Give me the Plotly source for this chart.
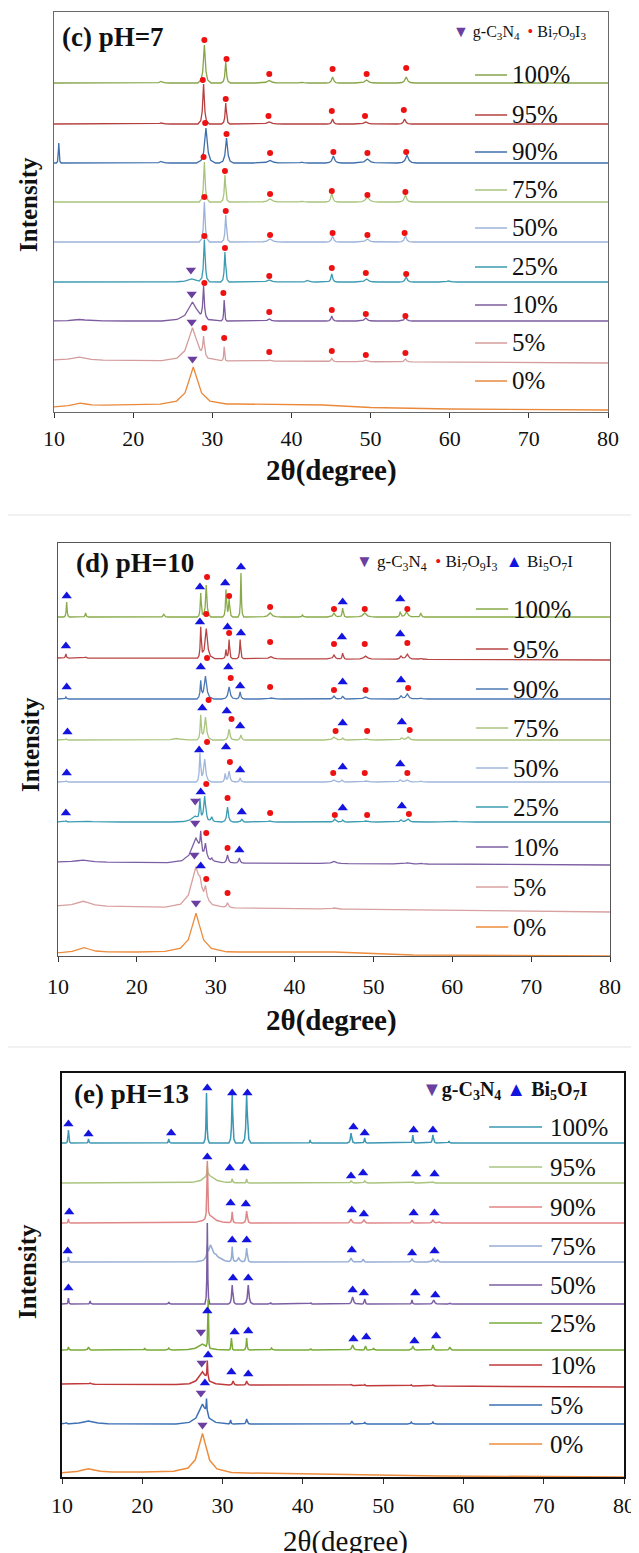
import numpy as np
import plotly.graph_objects as go

# page is shown inside the default 8px body margin, so the figure is drawn 8px smaller
PAGE_W, PAGE_H, BODY = 639, 1553, 8
W, H = PAGE_W - BODY, PAGE_H - BODY
SAMPLES = ["100%", "95%", "90%", "75%", "50%", "25%", "10%", "5%", "0%"]
X_TICKS = [10, 20, 30, 40, 50, 60, 70, 80]
FLAT = [(10, 0), (80, 0)]

# ---------------- panel (c) pH=7 : peaks (2theta, height, half-width) ----------------
C_OFFSETS = [329, 288, 249, 210, 170, 130, 91, 52, 0]
C_COLORS = ["#86a449", "#b5403f", "#3f6faa", "#a8c47c", "#9cb3d9", "#3b9bb0", "#7c5c9e", "#d49c9c", "#ea893b"]
C_P100 = [(23.5, 1.5, 0.2), (29.0, 38, 0.14), (31.7, 21, 0.1), (37.2, 2.5, 0.3), (41.3, 1, 0.15), (45.2, 6, 0.14), (49.5, 3, 0.25), (54.5, 6, 0.18)]
C_P95 = [(23.5, 1, 0.2), (28.9, 40, 0.12), (31.7, 21, 0.09), (37.2, 2, 0.3), (45.2, 5, 0.12), (49.4, 2, 0.25), (54.3, 5, 0.15)]
C_P90 = [(10.6, 20, 0.05), (23.5, 1.5, 0.2), (29.2, 35, 0.2), (31.8, 25, 0.15), (37.3, 2.5, 0.35), (41.3, 1, 0.15), (45.3, 7, 0.17), (49.6, 4, 0.3), (54.6, 8, 0.2)]
C_P75 = [(29.0, 40, 0.11), (31.6, 27, 0.09), (37.3, 3, 0.3), (41.3, 1, 0.15), (45.1, 9, 0.13), (49.6, 5, 0.25), (54.4, 7, 0.16)]
C_P50 = [(29.0, 40, 0.11), (31.7, 27, 0.09), (37.3, 3, 0.3), (45.2, 6, 0.14), (49.6, 3, 0.25), (54.4, 6, 0.16)]
C_P25 = [(27.4, 3, 0.6), (29.0, 42, 0.11), (31.6, 30, 0.09), (37.2, 2, 0.3), (42.0, 1.5, 0.2), (45.1, 8, 0.12), (49.5, 3, 0.25), (54.5, 5, 0.15), (59.8, 1, 0.2)]
C_P10 = [(13.2, 1.5, 1.0), (27.5, 19, 0.65), (28.9, 31, 0.1), (31.5, 21, 0.06), (37.2, 2, 0.2), (45.1, 5, 0.12), (49.4, 3, 0.2), (54.4, 4, 0.15)]
C_P5 = [(13.2, 3, 1.0), (27.5, 33, 0.65), (28.9, 18, 0.1), (31.5, 14, 0.06), (37.2, 1, 0.2), (45.1, 3, 0.12), (49.4, 1.5, 0.2), (54.4, 3, 0.15)]
C_P0 = [(13.3, 3, 1.0), (27.6, 37, 0.7)]
C_B5 = [(10, 0), (80, -3)]
C_B0 = [(10, 5), (20, 7.5), (26, 8), (33, 8), (44, 7), (50, 4.5), (60, 3), (80, 2)]
C_DOTS = [
    ("100%", 29.0, 43), ("100%", 31.8, 24), ("100%", 37.2, 9), ("100%", 45.2, 14), ("100%", 49.5, 9), ("100%", 54.5, 15),
    ("95%", 28.8, 44), ("95%", 31.7, 25), ("95%", 37.1, 8), ("95%", 45.1, 13), ("95%", 49.3, 8), ("95%", 54.2, 14),
    ("90%", 29.1, 40), ("90%", 31.8, 29), ("90%", 37.3, 10), ("90%", 45.3, 11), ("90%", 49.6, 10), ("90%", 54.5, 11),
    ("75%", 28.9, 45), ("75%", 31.6, 31), ("75%", 37.3, 8), ("75%", 45.1, 11), ("75%", 49.6, 7), ("75%", 54.4, 10),
    ("50%", 29.0, 45), ("50%", 31.7, 31), ("50%", 37.3, 7), ("50%", 45.2, 9), ("50%", 49.6, 7), ("50%", 54.3, 9),
    ("25%", 29.0, 46), ("25%", 31.6, 34), ("25%", 37.2, 6), ("25%", 45.1, 14), ("25%", 49.4, 9), ("25%", 54.5, 8),
    ("10%", 29.0, 38), ("10%", 31.4, 28), ("10%", 37.2, 9), ("10%", 45.1, 11), ("10%", 49.4, 7), ("10%", 54.4, 5),
    ("5%", 29.0, 32), ("5%", 31.5, 22), ("5%", 37.2, 8), ("5%", 45.1, 9), ("5%", 49.4, 5), ("5%", 54.4, 7),
]
C_UP = []
C_DOWN = [("25%", 27.3, 12), ("10%", 27.4, 27), ("5%", 27.4, 38), ("0%", 27.5, 53)]
C_LEG_Y = [337, 297, 260, 222, 184, 145, 107, 69, 31]

# ---------------- panel (d) pH=10 ----------------
D_OFFSETS = [339, 298, 257, 216, 174, 134, 94, 50, 0]
D_COLORS = ["#88aa48", "#b84444", "#4a78b5", "#aac47f", "#a0b6dc", "#3c9cb2", "#7b5ea3", "#d8a0a0", "#ec8c3c"]
D_P100 = [(11.1, 15, 0.06), (13.5, 4, 0.07), (23.4, 3, 0.08), (28.1, 24, 0.07), (28.8, 32, 0.1), (31.3, 27, 0.07), (31.7, 18, 0.08), (33.2, 44, 0.06), (36.9, 4, 0.25), (41.0, 2, 0.08), (45.0, 4, 0.15), (46.1, 9, 0.08), (48.9, 4, 0.25), (53.4, 5, 0.08), (54.2, 5, 0.2), (56.0, 4, 0.08)]
D_P95 = [(11.0, 4, 0.07), (13.5, 1, 0.1), (28.1, 30, 0.07), (28.8, 30, 0.18), (31.3, 9, 0.07), (31.7, 19, 0.07), (33.1, 19, 0.07), (37.0, 2, 0.25), (45.0, 4, 0.15), (46.1, 6, 0.08), (49.0, 3, 0.25), (53.5, 3, 0.15), (54.3, 5, 0.2), (56.0, 1, 0.15)]
D_P90 = [(11.0, 2, 0.07), (28.1, 17, 0.08), (28.7, 23, 0.18), (31.7, 12, 0.15), (33.1, 7, 0.1), (37.0, 1, 0.25), (45.0, 3, 0.15), (46.1, 3, 0.1), (49.0, 2, 0.25), (53.5, 3, 0.15), (54.3, 5, 0.2), (56.0, 1, 0.15)]
D_P75 = [(11.0, 1, 0.07), (25.0, 1.5, 0.5), (28.1, 24, 0.08), (28.7, 23, 0.15), (31.7, 11, 0.12), (33.2, 5, 0.1), (45.0, 3, 0.2), (46.1, 2, 0.1), (49.0, 1, 0.25), (53.6, 2, 0.15), (54.4, 3, 0.2)]
D_P50 = [(11.0, 1, 0.07), (28.0, 28, 0.08), (28.6, 23, 0.15), (31.2, 8, 0.08), (31.7, 11, 0.12), (33.1, 4, 0.1), (45.0, 2, 0.2), (46.0, 2, 0.1), (49.0, 1, 0.25), (53.4, 2, 0.15), (54.3, 2, 0.2), (56.0, 1, 0.15)]
D_P25 = [(11.0, 1, 0.07), (13.2, 1, 0.8), (27.4, 6, 0.5), (28.0, 20, 0.08), (28.6, 25, 0.14), (29.5, 5, 0.12), (31.5, 15, 0.12), (33.3, 3, 0.1), (36.8, 1, 0.2), (45.1, 3, 0.15), (46.1, 2, 0.1), (49.0, 1, 0.25), (53.5, 2, 0.15), (54.4, 3, 0.2), (60.0, 1, 0.5)]
D_P10 = [(13.2, 2, 1.0), (27.5, 25, 0.6), (28.1, 18, 0.08), (28.7, 14, 0.14), (29.5, 3, 0.12), (31.5, 8, 0.12), (33.0, 5, 0.1), (45.0, 2, 0.3), (54.3, 1, 0.3), (56.0, 1, 0.15)]
D_P5 = [(13.2, 5, 1.0), (27.5, 41, 0.65), (28.0, 5, 0.08), (28.7, 12, 0.15), (31.5, 5, 0.15), (45.0, 1, 0.3)]
D_P0 = [(13.3, 5, 1.0), (27.5, 38, 0.65)]
D_B95 = [(10, 0), (80, -2)]
D_B10 = [(10, 0), (80, -3)]
D_B5 = [(10, 0), (80, -6)]
D_B0 = [(10, 3), (20, 4), (26, 5), (33, 4), (45, 4), (55, 1), (80, 0)]
D_DOTS = [
    ("100%", 28.9, 40), ("100%", 31.7, 21), ("100%", 36.9, 10), ("100%", 45.0, 8), ("100%", 48.9, 8), ("100%", 54.3, 8),
    ("95%", 28.8, 44), ("95%", 31.7, 25), ("95%", 36.9, 16), ("95%", 45.0, 14), ("95%", 48.9, 14), ("95%", 54.3, 15),
    ("90%", 28.9, 41), ("90%", 31.9, 21), ("90%", 36.9, 12), ("90%", 45.0, 9), ("90%", 49.0, 9), ("90%", 54.4, 11),
    ("75%", 29.1, 40), ("75%", 32.0, 21), ("75%", 45.2, 9), ("75%", 49.2, 9), ("75%", 54.6, 10),
    ("50%", 28.9, 40), ("50%", 31.8, 20), ("50%", 44.9, 9), ("50%", 48.9, 9), ("50%", 54.3, 9),
    ("25%", 28.8, 38), ("25%", 31.5, 24), ("25%", 36.9, 9), ("25%", 45.1, 7), ("25%", 49.2, 7), ("25%", 54.5, 8),
    ("10%", 28.8, 29), ("10%", 31.5, 14),
    ("5%", 28.8, 27), ("5%", 31.5, 13),
]
D_UP = [
    ("100%", 11.1, 21), ("100%", 28.0, 30), ("100%", 31.2, 34), ("100%", 33.2, 50), ("100%", 46.1, 15), ("100%", 53.4, 18),
    ("95%", 11.0, 12), ("95%", 28.0, 36), ("95%", 31.5, 31), ("95%", 33.2, 25), ("95%", 46.0, 21), ("95%", 53.4, 24),
    ("90%", 11.1, 12), ("90%", 28.1, 32), ("90%", 31.6, 32), ("90%", 33.1, 13), ("90%", 46.1, 17), ("90%", 53.5, 19),
    ("75%", 11.2, 8), ("75%", 28.3, 32), ("75%", 31.4, 29), ("75%", 33.1, 14), ("75%", 46.1, 17), ("75%", 53.6, 18),
    ("50%", 11.1, 9), ("50%", 27.9, 32), ("50%", 31.3, 35), ("50%", 33.1, 12), ("50%", 46.1, 15), ("50%", 53.4, 18),
    ("25%", 11.0, 9), ("25%", 28.1, 30), ("25%", 33.3, 10), ("25%", 46.1, 14), ("25%", 53.6, 16),
    ("10%", 33.0, 12),
    ("5%", 28.1, 40),
]
D_DOWN = [("25%", 27.4, 21), ("10%", 27.4, 39), ("5%", 27.3, 51), ("0%", 27.5, 53)]
D_LEG_Y = [347, 307, 267, 228, 188, 149, 109, 69, 29]

# ---------------- panel (e) pH=13 ----------------
E_OFFSETS = [334, 294, 254, 215, 173, 127, 93, 53, 0]
E_COLORS = ["#3b97b2", "#a9c47f", "#e08585", "#94acd4", "#7b5ea3", "#7aab3a", "#c0393b", "#3d70b5", "#ec8c3c"]
E_P100 = [(10.8, 13, 0.05), (13.3, 4, 0.05), (23.3, 4, 0.06), (28.0, 50, 0.06), (31.2, 48, 0.07), (33.0, 48, 0.09), (40.9, 3, 0.04), (46.0, 10, 0.08), (47.7, 5, 0.06), (53.7, 8, 0.06), (56.2, 8, 0.08), (58.2, 2, 0.05)]
E_P95 = [(28.1, 10, 0.05), (28.3, 8, 0.7), (31.2, 4, 0.06), (33.0, 4, 0.06), (46.0, 2, 0.1), (47.7, 2, 0.1), (53.7, 1, 0.1), (56.2, 1, 0.1)]
E_P90 = [(10.8, 4, 0.05), (28.1, 56, 0.05), (28.4, 8, 0.6), (31.2, 11, 0.06), (33.0, 12, 0.08), (46.0, 4, 0.12), (47.6, 3, 0.1), (53.6, 3, 0.08), (56.2, 3, 0.12), (57.0, 1, 0.1)]
E_P75 = [(10.8, 5, 0.05), (28.1, 10, 0.05), (28.5, 15, 0.3), (29.2, 5, 0.6), (31.2, 15, 0.06), (32.0, 4, 0.15), (33.0, 14, 0.08), (46.0, 4, 0.12), (47.5, 3, 0.08), (53.6, 3, 0.12), (56.2, 3, 0.12), (56.8, 2, 0.08)]
E_P50 = [(10.8, 6, 0.05), (13.5, 3, 0.05), (23.3, 2, 0.05), (28.1, 81, 0.05), (31.2, 19, 0.08), (33.2, 19, 0.1), (36.0, 1, 0.06), (41.0, 1, 0.05), (46.2, 7, 0.12), (47.7, 5, 0.06), (53.6, 4, 0.06), (56.3, 4, 0.12), (58.3, 1, 0.08)]
E_P25 = [(10.8, 3, 0.05), (13.3, 3, 0.08), (20.3, 2, 0.05), (23.3, 2, 0.08), (27.5, 6, 0.6), (28.2, 48, 0.04), (31.1, 12, 0.05), (33.0, 12, 0.06), (36.1, 2, 0.08), (41.0, 1, 0.05), (46.2, 5, 0.12), (47.8, 4, 0.06), (48.8, 2, 0.06), (53.7, 4, 0.08), (56.2, 5, 0.08), (58.3, 3, 0.08)]
E_P10 = [(13.5, 1, 0.1), (27.5, 13, 0.55), (28.1, 18, 0.05), (31.3, 4, 0.08), (33.0, 4, 0.08), (46.0, 1, 0.08), (47.7, 1, 0.05), (53.5, 1, 0.05), (56.2, 1, 0.08)]
E_P5 = [(10.5, 1, 0.08), (13.3, 3, 0.8), (27.5, 20, 0.55), (28.0, 14, 0.05), (31.0, 4, 0.06), (33.0, 5, 0.08), (46.1, 3, 0.08), (47.7, 2, 0.06), (53.5, 2, 0.08), (56.2, 2, 0.08)]
E_P0 = [(13.3, 4, 1.0), (27.5, 38, 0.6)]
E_B10 = [(10, 0), (80, -3)]
E_B0 = [(10, 4), (20, 5), (26, 6), (33, 4), (50, 2), (57, 1), (80, 0)]
E_DOTS = []
E_UP = [
    ("100%", 10.8, 19), ("100%", 13.3, 9), ("100%", 23.6, 10), ("100%", 28.1, 55), ("100%", 31.2, 50), ("100%", 33.1, 50), ("100%", 46.3, 16), ("100%", 47.7, 10), ("100%", 53.8, 13), ("100%", 56.2, 13),
    ("95%", 28.1, 26), ("95%", 30.9, 15), ("95%", 32.7, 15), ("95%", 46.0, 7), ("95%", 47.5, 10), ("95%", 54.1, 9), ("95%", 56.4, 9),
    ("90%", 10.9, 11), ("90%", 31.0, 20), ("90%", 32.9, 19), ("90%", 46.1, 13), ("90%", 47.6, 9), ("90%", 53.8, 10), ("90%", 56.4, 10),
    ("75%", 10.7, 11), ("75%", 31.2, 22), ("75%", 33.0, 22), ("75%", 46.1, 12), ("75%", 53.6, 9), ("75%", 56.4, 11),
    ("50%", 10.8, 16), ("50%", 31.3, 26), ("50%", 33.2, 26), ("50%", 46.2, 14), ("50%", 47.6, 11), ("50%", 54.0, 11), ("50%", 56.5, 9),
    ("25%", 28.1, 39), ("25%", 31.5, 18), ("25%", 33.2, 19), ("25%", 46.3, 11), ("25%", 47.9, 13), ("25%", 53.9, 9), ("25%", 56.6, 14),
    ("10%", 28.2, 29), ("10%", 31.1, 12), ("10%", 33.2, 10),
    ("5%", 27.8, 41),
]
E_DOWN = [("25%", 27.3, 18), ("10%", 27.4, 21), ("5%", 27.3, 31), ("0%", 27.5, 52)]
E_LEG_Y = [350, 310, 270, 231, 192, 154, 112, 72, 33]

# ---------------- drawing helpers (style only) ----------------
SHAPE_DX = [-6.0, -3.0, -1.5, -0.7, 0.0, 0.7, 1.5, 3.0, 6.0]
SHAPE_FR = [0.0, 0.08, 0.3, 0.67, 1.0, 0.67, 0.3, 0.08, 0.0]
FONT = "Liberation Serif"
DOT_C, UP_C, DOWN_C = "#ee1111", "#1414e0", "#6b3fa0"


def px(xp):
    return (xp - BODY) / W


def py(yp):
    return 1 - (yp - BODY) / H


def profile(peaks, base):
    bx = [b[0] for b in base]
    by = [b[1] for b in base]
    xs = {10.0, 80.0, *bx}
    for c, h, w in peaks:
        xs.update(c + d * w for d in SHAPE_DX)
    xs = np.array(sorted(v for v in xs if 10 <= v <= 80))
    ys = np.interp(xs, bx, by)
    for c, h, w in peaks:
        ys = ys + np.interp(xs, [c + d * w for d in SHAPE_DX], [h * f for f in SHAPE_FR], left=0, right=0)
    return xs, ys


PANELS = [
    dict(sfx="", peaks=[C_P100, C_P95, C_P90, C_P75, C_P50, C_P25, C_P10, C_P5, C_P0],
         bases=[FLAT, FLAT, FLAT, FLAT, FLAT, FLAT, FLAT, C_B5, C_B0],
         off=C_OFFSETS, col=C_COLORS, dots=C_DOTS, up=C_UP, down=C_DOWN, legy=C_LEG_Y,
         xpx=(54, 608), ypx=(12, 412), leg=(63.2, 67.25, 67.6), frame="#6a6a6a", fw=1, lw=1.3,
         title="(c) pH=7", tpos=(60, 37),
         key='<span style="color:#6b3fa0">▼</span> g-C<sub>3</sub>N<sub>4</sub>  <span style="color:#ee1111">•</span> Bi<sub>7</sub>O<sub>9</sub>I<sub>3</sub>',
         kpos=(451, 32), ksize=16, xlab="<b>2θ(degree)</b>", xlpos=(331, 470), xlsize=29, ylx=28, yly=205, stand=2),
    dict(sfx="2", peaks=[D_P100, D_P95, D_P90, D_P75, D_P50, D_P25, D_P10, D_P5, D_P0],
         bases=[FLAT, D_B95, FLAT, FLAT, FLAT, FLAT, D_B10, D_B5, D_B0],
         off=D_OFFSETS, col=D_COLORS, dots=D_DOTS, up=D_UP, down=D_DOWN, legy=D_LEG_Y,
         xpx=(58, 610), ypx=(543, 956), leg=(63.0, 67.1, 67.5), frame="#555555", fw=1, lw=1.3,
         title="(d) pH=10", tpos=(74, 563),
         key='<span style="color:#6b3fa0">▼</span> g-C<sub>3</sub>N<sub>4</sub>  <span style="color:#ee1111">•</span> Bi<sub>7</sub>O<sub>9</sub>I<sub>3</sub>  <span style="color:#1414e0">▲</span> Bi<sub>5</sub>O<sub>7</sub>I',
         kpos=(354, 563), ksize=17, xlab="<b>2θ(degree)</b>", xlpos=(332, 1020), xlsize=29, ylx=30, yly=745, stand=6),
    dict(sfx="3", peaks=[E_P100, E_P95, E_P90, E_P75, E_P50, E_P25, E_P10, E_P5, E_P0],
         bases=[FLAT, FLAT, FLAT, FLAT, FLAT, FLAT, E_B10, FLAT, E_B0],
         off=E_OFFSETS, col=E_COLORS, dots=E_DOTS, up=E_UP, down=E_DOWN, legy=E_LEG_Y,
         xpx=(62, 624), ypx=(1073, 1477), leg=(63.2, 69.8, 70.5), frame="#111111", fw=1.6, lw=1.5,
         title="(e) pH=13", tpos=(72, 1094),
         key='<b><span style="color:#6b3fa0">▼</span>g-C<sub>3</sub>N<sub>4</sub> <span style="color:#1414e0">▲</span> Bi<sub>5</sub>O<sub>7</sub>I</b>',
         kpos=(420, 1090), ksize=20, xlab="2θ(degree)", xlpos=(345, 1541), xlsize=29, ylx=27, yly=1272, stand=3),
]

fig = go.Figure()
annotations = []
layout_axes = {}

for p in PANELS:
    s = p["sfx"]
    xr, yr = "x" + s, "y" + s
    ymax = p["ypx"][1] - p["ypx"][0]
    idx = {name: i for i, name in enumerate(SAMPLES)}
    for i, name in enumerate(SAMPLES):
        xs, ys = profile(p["peaks"][i], p["bases"][i])
        fig.add_trace(go.Scatter(x=xs, y=ys + p["off"][i], mode="lines", xaxis=xr, yaxis=yr,
                                 line=dict(color=p["col"][i], width=p["lw"]), showlegend=False,
                                 hoverinfo="skip", cliponaxis=True))
        fig.add_trace(go.Scatter(x=[p["leg"][0], p["leg"][1]], y=[p["legy"][i], p["legy"][i]], mode="lines",
                                 xaxis=xr, yaxis=yr, line=dict(color=p["col"][i], width=p["lw"]),
                                 showlegend=False, hoverinfo="skip"))
        annotations.append(dict(x=p["leg"][2], y=p["legy"][i], xref=xr, yref=yr, text=name, showarrow=False,
                                xanchor="left", yanchor="middle", font=dict(family=FONT, size=25, color="#111")))
    for lst, sym, col, size in [(p["dots"], "circle", DOT_C, 6), (p["up"], "triangle-up", UP_C, 9),
                                (p["down"], "triangle-down", DOWN_C, 9)]:
        if lst:
            fig.add_trace(go.Scatter(x=[m[1] for m in lst], y=[p["off"][idx[m[0]]] + m[2] for m in lst],
                                     mode="markers", xaxis=xr, yaxis=yr,
                                     marker=dict(symbol=sym, color=col, size=size, line=dict(width=0)),
                                     showlegend=False, hoverinfo="skip", cliponaxis=False))
    layout_axes["xaxis" + s] = dict(domain=[px(p["xpx"][0]), px(p["xpx"][1])], range=[10, 80], anchor=yr,
                                    tickvals=X_TICKS, ticks="outside", ticklen=5, tickwidth=1, tickcolor="#333",
                                    showline=True, linecolor=p["frame"], linewidth=p["fw"], mirror=True,
                                    showgrid=False, zeroline=False, ticklabelstandoff=p["stand"],
                                    automargin=False, tickfont=dict(family=FONT, size=22, color="#111"))
    layout_axes["yaxis" + s] = dict(domain=[py(p["ypx"][1]), py(p["ypx"][0])], range=[0, ymax],
                                    anchor=xr, showticklabels=False, ticks="", showline=True,
                                    linecolor=p["frame"], linewidth=p["fw"], mirror=True, showgrid=False,
                                    zeroline=False, automargin=False)
    annotations.append(dict(x=px(p["tpos"][0]), y=py(p["tpos"][1]), xref="paper", yref="paper",
                            text="<b>" + p["title"] + "</b>", showarrow=False, xanchor="left", yanchor="middle",
                            font=dict(family=FONT, size=27, color="#111")))
    annotations.append(dict(x=px(p["kpos"][0]), y=py(p["kpos"][1]), xref="paper", yref="paper",
                            text=p["key"], showarrow=False, xanchor="left", yanchor="middle",
                            font=dict(family=FONT, size=p["ksize"], color="#111")))
    annotations.append(dict(x=px(p["xlpos"][0]), y=py(p["xlpos"][1]), xref="paper", yref="paper",
                            text=p["xlab"], showarrow=False, xanchor="center", yanchor="middle",
                            font=dict(family=FONT, size=p["xlsize"], color="#111")))
    annotations.append(dict(x=px(p["ylx"]), y=py(p["yly"]), xref="paper",
                            yref="paper", text="<b>Intensity</b>", textangle=-90, showarrow=False,
                            xanchor="center", yanchor="middle", font=dict(family=FONT, size=25, color="#111")))

shapes = [dict(type="line", xref="paper", yref="paper", x0=0, x1=1, y0=py(yy), y1=py(yy),
               line=dict(color="#e4e4e4", width=1)) for yy in (515, 1047)]

fig.update_layout(width=W, height=H, margin=dict(l=0, r=0, t=0, b=0, autoexpand=False),
                  paper_bgcolor="white", plot_bgcolor="white", showlegend=False,
                  annotations=annotations, shapes=shapes, **layout_axes)
fig.write_html("out.html")
